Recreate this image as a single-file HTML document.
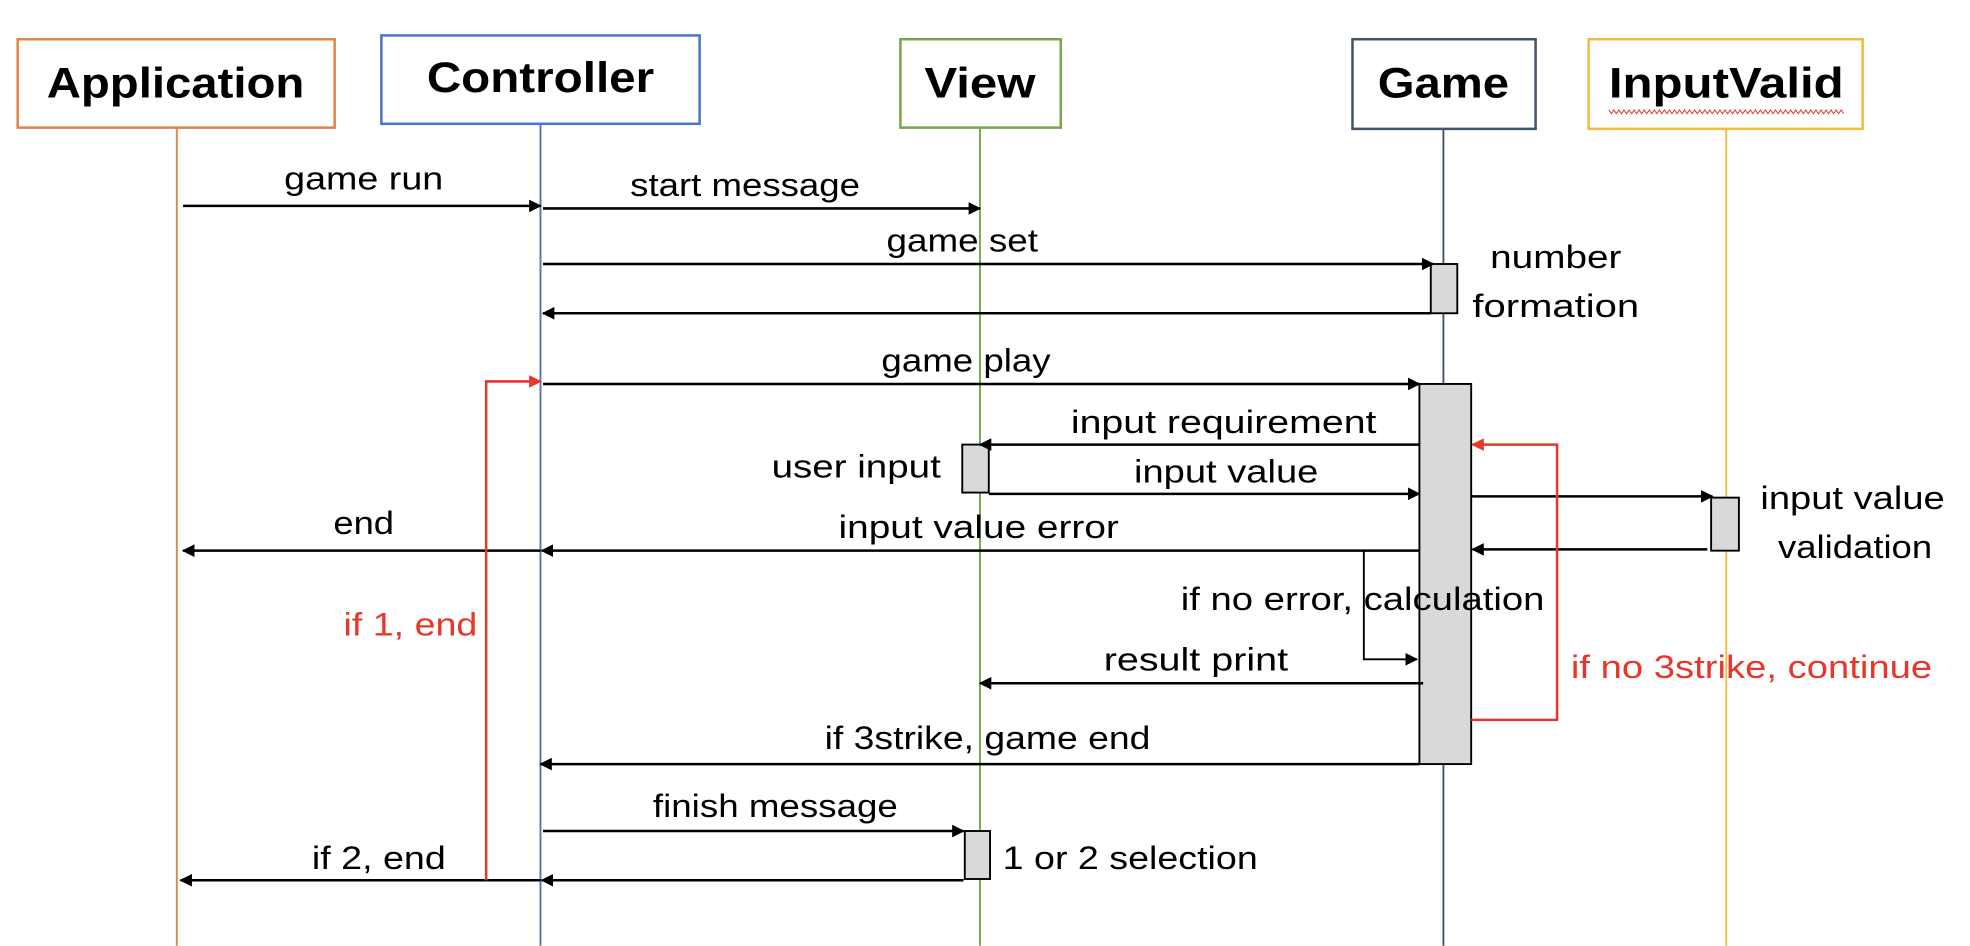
<!DOCTYPE html>
<html><head><meta charset="utf-8"><style>html,body{margin:0;padding:0;background:#fff}svg{display:block}text{font-family:"Liberation Sans",sans-serif;fill:#000}</style></head>
<body>
<svg width="1970" height="946" viewBox="0 0 1560 749" xmlns="http://www.w3.org/2000/svg">
<defs>
<marker id="a" markerWidth="10" markerHeight="10" refX="9" refY="5" orient="auto" markerUnits="userSpaceOnUse"><path d="M0,0 L10,5 L0,10 z" fill="#000"/></marker>
<marker id="r" markerWidth="10" markerHeight="10" refX="9" refY="5" orient="auto" markerUnits="userSpaceOnUse"><path d="M0,0 L10,5 L0,10 z" fill="#e8372a"/></marker>
</defs>
<!-- lifelines -->
<line x1="140" y1="101" x2="140" y2="749" stroke="#e0844a" stroke-width="1.5"/>
<line x1="428" y1="98" x2="428" y2="749" stroke="#4f74c4" stroke-width="1.5"/>
<line x1="776" y1="101" x2="776" y2="749" stroke="#74a84a" stroke-width="1.5"/>
<line x1="1143" y1="102" x2="1143" y2="749" stroke="#44546a" stroke-width="1.5"/>
<line x1="1367" y1="102" x2="1367" y2="749" stroke="#f2be42" stroke-width="1.5"/>
<!-- boxes -->
<rect x="14" y="31" width="251" height="70" fill="#fff" stroke="#e0844a" stroke-width="2"/>
<rect x="302" y="28" width="252" height="70" fill="#fff" stroke="#4f74c4" stroke-width="2"/>
<rect x="713" y="31" width="127" height="70" fill="#fff" stroke="#74a84a" stroke-width="2"/>
<rect x="1071" y="31" width="145" height="71" fill="#fff" stroke="#44546a" stroke-width="2"/>
<rect x="1258" y="31" width="217" height="71" fill="#fff" stroke="#f2be42" stroke-width="2"/>
<g font-weight="bold" font-size="34" text-anchor="middle">
<text x="139" y="77" textLength="204" lengthAdjust="spacingAndGlyphs">Application</text>
<text x="428" y="73" textLength="180" lengthAdjust="spacingAndGlyphs">Controller</text>
<text x="776" y="77" textLength="88" lengthAdjust="spacingAndGlyphs">View</text>
<text x="1143" y="77" textLength="104" lengthAdjust="spacingAndGlyphs">Game</text>
<text x="1367" y="77" textLength="186" lengthAdjust="spacingAndGlyphs">InputValid</text>
</g>
<path d="M1274,87 l2,3 l2,-3 l2,3 l2,-3 l2,3 l2,-3 l2,3 l2,-3 l2,3 l2,-3 l2,3 l2,-3 l2,3 l2,-3 l2,3 l2,-3 l2,3 l2,-3 l2,3 l2,-3 l2,3 l2,-3 l2,3 l2,-3 l2,3 l2,-3 l2,3 l2,-3 l2,3 l2,-3 l2,3 l2,-3 l2,3 l2,-3 l2,3 l2,-3 l2,3 l2,-3 l2,3 l2,-3 l2,3 l2,-3 l2,3 l2,-3 l2,3 l2,-3 l2,3 l2,-3 l2,3 l2,-3 l2,3 l2,-3 l2,3 l2,-3 l2,3 l2,-3 l2,3 l2,-3 l2,3 l2,-3 l2,3 l2,-3 l2,3 l2,-3 l2,3 l2,-3 l2,3 l2,-3 l2,3 l2,-3 l2,3 l2,-3 l2,3 l2,-3 l2,3 l2,-3 l2,3 l2,-3 l2,3 l2,-3 l2,3 l2,-3 l2,3 l2,-3 l2,3 l2,-3 l2,3 l2,-3 l2,3 l2,-3 l2,3 l2,-3 l2,3" fill="none" stroke="#e8372a" stroke-width="0.8"/>
<!-- activation boxes -->
<rect x="1133" y="209" width="21" height="39" fill="#d9d9d9" stroke="#000" stroke-width="1.5"/>
<rect x="1124" y="304" width="41" height="301" fill="#d9d9d9" stroke="#000" stroke-width="1.5"/>
<rect x="762" y="352" width="21" height="38" fill="#d9d9d9" stroke="#000" stroke-width="1.5"/>
<rect x="1355" y="394" width="22" height="42" fill="#d9d9d9" stroke="#000" stroke-width="1.5"/>
<rect x="764" y="658" width="20" height="38" fill="#d9d9d9" stroke="#000" stroke-width="1.5"/>
<!-- messages -->
<g stroke="#000" stroke-width="2" fill="none" marker-end="url(#a)">
<line x1="145" y1="163" x2="428" y2="163"/>
<line x1="430" y1="165" x2="776" y2="165"/>
<line x1="430" y1="209" x2="1135" y2="209"/>
<line x1="1133" y1="248" x2="430" y2="248"/>
<line x1="430" y1="304" x2="1124" y2="304"/>
<line x1="1124" y1="352" x2="776" y2="352"/>
<line x1="783" y1="391" x2="1124" y2="391"/>
<line x1="1165" y1="393" x2="1356" y2="393"/>
<line x1="1352" y1="435" x2="1166" y2="435"/>
<line x1="1124" y1="436" x2="429" y2="436"/>
<line x1="428" y1="436" x2="145" y2="436"/>
<line x1="1127" y1="541" x2="776" y2="541"/>
<line x1="1124" y1="605" x2="428" y2="605"/>
<line x1="430" y1="658" x2="763" y2="658"/>
<line x1="763" y1="697" x2="429" y2="697"/>
<line x1="428" y1="697" x2="143" y2="697"/>
<path d="M1080,436 V522 H1122" stroke-width="1.5"/>
</g>
<g stroke="#e8372a" stroke-width="2" fill="none" marker-end="url(#r)">
<path d="M385,697 V302 H428"/>
<path d="M1165,570 H1233 V352 H1166"/>
</g>
<!-- labels -->
<g font-size="26" text-anchor="middle">
<text x="288" y="150" textLength="126" lengthAdjust="spacingAndGlyphs">game run</text>
<text x="590" y="155" textLength="182" lengthAdjust="spacingAndGlyphs">start message</text>
<text x="762" y="199" textLength="120" lengthAdjust="spacingAndGlyphs">game set</text>
<text x="1232" y="212" textLength="104" lengthAdjust="spacingAndGlyphs">number</text>
<text x="1232" y="251" textLength="132" lengthAdjust="spacingAndGlyphs">formation</text>
<text x="765" y="294" textLength="134" lengthAdjust="spacingAndGlyphs">game play</text>
<text x="969" y="343" textLength="242" lengthAdjust="spacingAndGlyphs">input requirement</text>
<text x="678" y="378" textLength="134" lengthAdjust="spacingAndGlyphs">user input</text>
<text x="971" y="382" textLength="146" lengthAdjust="spacingAndGlyphs">input value</text>
<text x="1467" y="403" textLength="146" lengthAdjust="spacingAndGlyphs">input value</text>
<text x="1469" y="442" textLength="122" lengthAdjust="spacingAndGlyphs">validation</text>
<text x="288" y="423" textLength="48" lengthAdjust="spacingAndGlyphs">end</text>
<text x="775" y="426" textLength="222" lengthAdjust="spacingAndGlyphs">input value error</text>
<text x="1079" y="483" textLength="288" lengthAdjust="spacingAndGlyphs">if no error, calculation</text>
<text x="947" y="531" textLength="146" lengthAdjust="spacingAndGlyphs">result print</text>
<text x="782" y="593" textLength="258" lengthAdjust="spacingAndGlyphs">if 3strike, game end</text>
<text x="614" y="647" textLength="194" lengthAdjust="spacingAndGlyphs">finish message</text>
<text x="300" y="688" textLength="106" lengthAdjust="spacingAndGlyphs">if 2, end</text>
<text x="895" y="688" textLength="202" lengthAdjust="spacingAndGlyphs">1 or 2 selection</text>
<text x="325" y="503" textLength="106" lengthAdjust="spacingAndGlyphs" style="fill:#e8372a">if 1, end</text>
<text x="1387" y="537" textLength="286" lengthAdjust="spacingAndGlyphs" style="fill:#e8372a">if no 3strike, continue</text>
</g>
</svg>
</body></html>
